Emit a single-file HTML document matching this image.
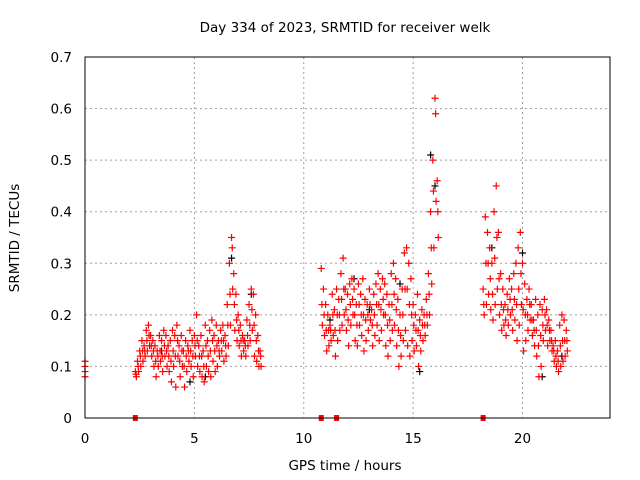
<!DOCTYPE html>
<html><head><meta charset="utf-8"><style>
body{margin:0;background:#fff}
svg{display:block;font-family:"DejaVu Sans","Liberation Sans",sans-serif}
</style></head><body>
<svg id="chart" width="640" height="480">
<rect width="640" height="480" fill="#fff"/>
<g id="grid"></g><g id="ticks"></g><g id="marks"></g>
<rect x="85" y="57" width="525" height="361" fill="none" stroke="#000" stroke-width="1"/>
<text x="345" y="32" font-size="13.5" text-anchor="middle">Day 334 of 2023, SRMTID for receiver welk</text>
<text x="345" y="470" font-size="13.5" text-anchor="middle">GPS time / hours</text>
<text x="19" y="238" font-size="13.5" text-anchor="middle" transform="rotate(-90 19 238)">SRMTID / TECUs</text>
</svg>
<script>
const xTicks=[0,5,10,15,20];
const yTicks=[0,0.1,0.2,0.3,0.4,0.5,0.6,0.7];
const yTickLabels=["0","0.1","0.2","0.3","0.4","0.5","0.6","0.7"];
const seg0T=[0,0,0,0];
const seg0V=[0.08,0.1,0.11,0.09];
const seg2Start=2.3;
const seg2Hi=[0.09,0.11,0.13,0.15,0.14,0.17,0.18,0.16,0.15,0.14,0.13,0.16,0.15,0.17,0.16,0.14,0.15,0.17,0.16,0.18,0.14,0.16,0.13,0.15,0.14,0.17,0.15,0.16,0.2,0.14,0.16,0.13,0.18,0.15,0.17,0.19,0.16,0.18,0.15,0.17,0.18,0.16,0.22,0.3,0.35,0.28,0.24,0.2,0.18,0.16,0.15,0.19,0.22,0.25,0.24,0.2,0.16,0.13];
const seg2Lo=[0.08,0.09,0.1,0.11,0.12,0.13,0.14,0.12,0.1,0.08,0.1,0.11,0.09,0.12,0.1,0.09,0.07,0.1,0.06,0.12,0.08,0.1,0.06,0.09,0.11,0.1,0.08,0.12,0.1,0.09,0.08,0.07,0.1,0.09,0.08,0.11,0.09,0.1,0.12,0.13,0.11,0.12,0.14,0.18,0.25,0.17,0.15,0.14,0.12,0.13,0.12,0.14,0.15,0.17,0.12,0.11,0.1,0.1];
const seg2Mid=[0.085,0.1,0.12,0.13,0.13,0.15,0.16,0.14,0.13,0.11,0.12,0.13,0.12,0.14,0.13,0.12,0.11,0.13,0.12,0.15,0.11,0.13,0.1,0.12,0.13,0.13,0.12,0.14,0.15,0.12,0.12,0.1,0.14,0.12,0.13,0.15,0.13,0.14,0.13,0.15,0.15,0.14,0.18,0.24,0.33,0.22,0.19,0.17,0.15,0.15,0.14,0.16,0.18,0.21,0.18,0.15,0.13,0.12];
const seg3Start=10.8;
const seg3Hi=[0.29,0.25,0.22,0.2,0.18,0.24,0.21,0.25,0.23,0.28,0.31,0.25,0.24,0.26,0.27,0.25,0.22,0.26,0.24,0.27,0.23,0.22,0.25,0.21,0.24,0.26,0.28,0.25,0.27,0.26,0.24,0.22,0.28,0.3,0.27,0.23,0.2,0.25,0.32,0.33,0.3,0.27,0.22,0.2,0.24,0.19,0.21,0.2,0.23,0.28,0.4,0.5,0.62,0.46];
const seg3Lo=[0.18,0.16,0.13,0.14,0.15,0.16,0.12,0.15,0.17,0.18,0.2,0.17,0.14,0.18,0.2,0.15,0.14,0.18,0.16,0.13,0.15,0.17,0.19,0.14,0.16,0.18,0.15,0.17,0.2,0.14,0.12,0.15,0.17,0.18,0.14,0.1,0.12,0.15,0.17,0.14,0.12,0.15,0.13,0.14,0.1,0.13,0.15,0.16,0.18,0.2,0.26,0.33,0.42,0.35];
const seg3Mid=[0.22,0.2,0.17,0.17,0.17,0.2,0.17,0.2,0.2,0.23,0.25,0.21,0.19,0.22,0.23,0.2,0.18,0.22,0.2,0.2,0.19,0.2,0.22,0.18,0.2,0.22,0.22,0.21,0.23,0.2,0.18,0.19,0.22,0.24,0.21,0.17,0.16,0.2,0.25,0.25,0.22,0.2,0.18,0.17,0.17,0.16,0.18,0.18,0.2,0.24,0.33,0.44,0.59,0.4];
const seg4Start=18.2;
const seg4Hi=[0.25,0.39,0.36,0.33,0.3,0.4,0.45,0.36,0.28,0.25,0.22,0.24,0.27,0.25,0.28,0.3,0.33,0.36,0.3,0.26,0.23,0.25,0.22,0.19,0.23,0.2,0.22,0.21,0.23,0.21,0.19,0.17,0.14,0.15,0.13,0.18,0.2,0.19,0.17];
const seg4Lo=[0.2,0.22,0.24,0.21,0.19,0.22,0.25,0.2,0.17,0.18,0.16,0.18,0.2,0.17,0.19,0.15,0.18,0.22,0.13,0.15,0.17,0.19,0.16,0.14,0.12,0.08,0.1,0.15,0.17,0.14,0.15,0.13,0.11,0.1,0.09,0.1,0.11,0.12,0.13];
const seg4Mid=[0.22,0.3,0.3,0.27,0.24,0.31,0.35,0.27,0.22,0.21,0.19,0.21,0.23,0.21,0.23,0.22,0.25,0.28,0.21,0.2,0.2,0.22,0.19,0.17,0.17,0.14,0.16,0.18,0.2,0.18,0.17,0.15,0.13,0.12,0.11,0.14,0.15,0.15,0.15];
const blackT=[3.5,4.8,5.5,6.7,7.6,12.3,13.0,15.3,15.8,16.0,18.6,20.0,20.9,21.8,11.2,14.4];
const blackV=[0.13,0.07,0.08,0.31,0.24,0.27,0.21,0.09,0.51,0.45,0.33,0.32,0.08,0.12,0.19,0.26];
const zeroT=[2.3,10.8,11.5,18.2];

const NS="http://www.w3.org/2000/svg";
const X=t=>85+t*525/24, Y=v=>418-v*361/0.7;
const grid=document.getElementById('grid'),ticks=document.getElementById('ticks'),marks=document.getElementById('marks');
function mk(tag,attrs,parent){const e=document.createElementNS(NS,tag);for(const k in attrs)e.setAttribute(k,attrs[k]);parent.appendChild(e);return e;}
xTicks.forEach(t=>{
  if(t>0){const g=mk('line',{x1:X(t),x2:X(t),y1:57,y2:418,stroke:'#a0a0a0','stroke-dasharray':'2,3'},grid);
  
  }
  const l=mk('text',{x:X(t),y:443,'font-size':13.5,'text-anchor':'middle'},ticks);l.textContent=t;
  
  
});
yTicks.forEach((v,i)=>{
  if(v>0&&v<0.7){const g=mk('line',{x1:85,x2:610,y1:Y(v),y2:Y(v),stroke:'#a0a0a0','stroke-dasharray':'2,3'},grid);
  
  }
  const l=mk('text',{x:72,y:Y(v)+5,'font-size':13.5,'text-anchor':'end'},ticks);l.textContent=yTickLabels[i];
  
  
});
function plus(t,v,color,name){
  const x=X(t),y=Y(v);
  const p=mk('path',{d:`M${x-3.5},${y}h7M${x},${y-3.5}v7`,stroke:color,'stroke-width':1.2,fill:'none'},marks);
  
  
}
blackT.forEach((t,i)=>plus(t,blackV[i],'#000','black-point'));
seg0T.forEach((t,i)=>plus(t,seg0V[i],'#f00','red-point'));
[[seg2Start,seg2Hi,seg2Lo,seg2Mid],[seg3Start,seg3Hi,seg3Lo,seg3Mid],[seg4Start,seg4Hi,seg4Lo,seg4Mid]].forEach(s=>{
  s[1].forEach((v,i)=>{const t=s[0]+i*0.1;
    plus(t,v,'#f00','red-point');
    plus(t+0.05,s[2][i],'#f00','red-point');
    plus(t+0.03,s[3][i],'#f00','red-point');
  });
});
zeroT.forEach(t=>{
  const r=mk('rect',{x:X(t)-2.5,y:415,width:5,height:6,fill:'#f00'},marks);
  
  
});
</script>
</body></html>
